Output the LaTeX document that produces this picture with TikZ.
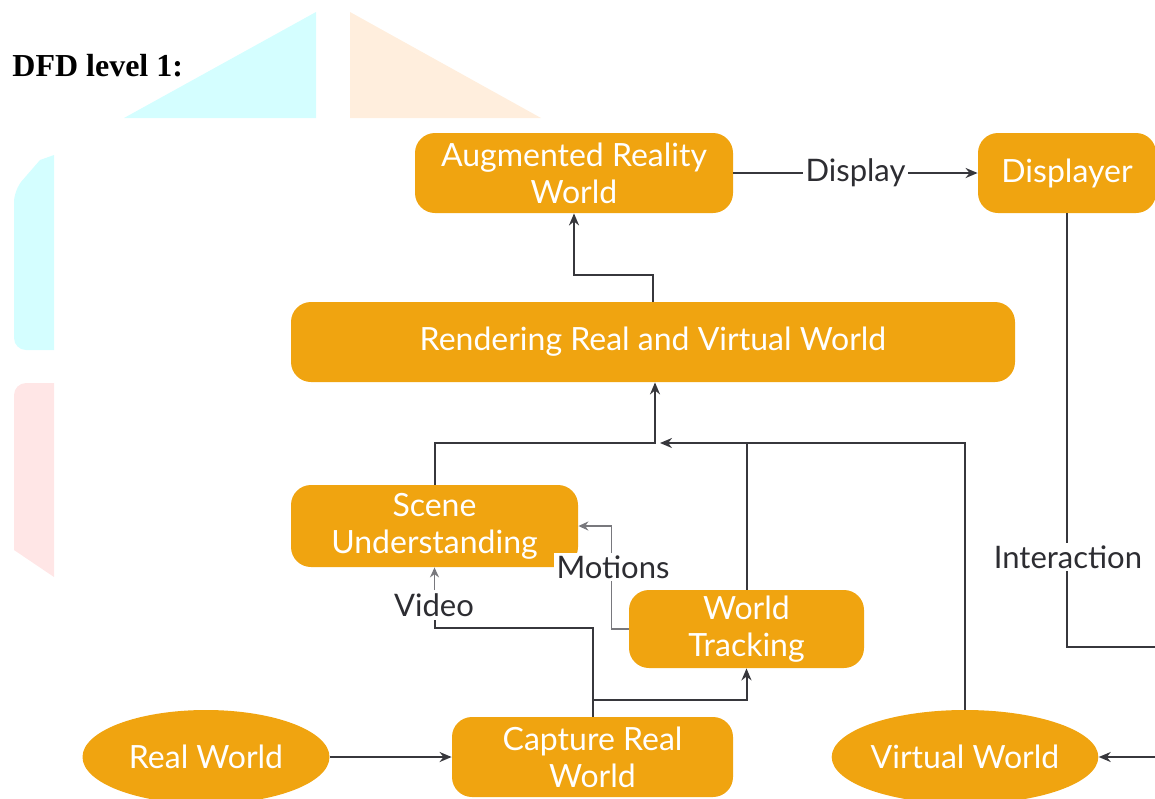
\documentclass[tikz,border=0pt]{standalone}
\usepackage{fontspec}
\setmainfont{Liberation Serif}
\newfontfamily\nodefont{Lato}
\usetikzlibrary{shapes.geometric,arrows.meta}
\definecolor{boxorange}{RGB}{240,164,16}
\definecolor{linegray}{RGB}{55,55,60}
\definecolor{softgray}{RGB}{120,120,125}
\definecolor{labelgray}{RGB}{45,45,50}
\definecolor{wmcyan}{RGB}{212,254,255}
\definecolor{wmpeach}{RGB}{255,238,221}
\definecolor{wmpink}{RGB}{255,230,230}
\tikzset{
  box/.style={fill=boxorange, rounded corners=10pt, text=white,
    font=\nodefont\fontsize{16}{18.5}\selectfont, align=center, inner sep=0pt},
  oval/.style={ellipse, fill=boxorange, text=white,
    font=\nodefont\fontsize{16}{18.5}\selectfont, align=center, inner sep=0pt},
  flow/.style={draw=linegray, line width=1pt, -{Stealth[length=6pt,width=5pt]}},
  plain/.style={draw=linegray, line width=1pt},
  soft/.style={draw=softgray, line width=0.8pt},
  softflow/.style={draw=softgray, line width=0.8pt, -{Stealth[length=5pt,width=4.5pt]}},
  lab/.style={fill=white, text=labelgray, font=\nodefont\fontsize{15.5}{18}\selectfont, inner sep=1.5pt},
}
\begin{document}
\begin{tikzpicture}[x=0.5pt,y=-0.5pt]
\useasboundingbox (0,0) rectangle (1155,798);
% watermark shapes
\fill[wmcyan] (124,118) -- (316,12) -- (316,118) -- cycle;
\fill[wmpeach] (350,12) -- (541,118) -- (350,118) -- cycle;
\fill[wmcyan] (54,155) -- (54,350) [rounded corners=6pt] -- (14,350) -- (14,190) [sharp corners] -- (40,160) -- cycle;
\fill[wmpink] (54,577) -- (54,383) [rounded corners=6pt] -- (14,383) [sharp corners] -- (14,550) -- cycle;
% title
\node[anchor=base west, font=\bfseries\fontsize{16}{19}\selectfont, inner sep=0pt] (title) at (12,76) {DFD level 1:};
% nodes
\node[box, minimum width=159pt, minimum height=40pt] (aug) at (574,173) {Augmented Reality\\World};
\node[box, minimum width=89pt, minimum height=40pt] (disp) at (1067,173) {Displayer};
\node[box, minimum width=362pt, minimum height=40pt] (rend) at (653,342) {Rendering Real and Virtual World};
\node[box, minimum width=143.5pt, minimum height=41pt] (scene) at (434.5,526) {Scene\\Understanding};
\node[box, minimum width=117.5pt, minimum height=39pt] (wt) at (746.5,629) {World\\Tracking};
\node[box, minimum width=140.5pt, minimum height=40pt] (cap) at (592.5,757) {Capture Real\\World};
\node[oval, minimum width=123.5pt, minimum height=47pt] (rw) at (206,757) {Real World};
\node[oval, minimum width=123pt, minimum height=47pt] (vw) at (965,757) {Virtual World};
% coordinates
\coordinate (j) at (655,443);
\coordinate (iout) at (1155,647);
\coordinate (ein) at (1155,757);
\coordinate (cb) at ([yshift=8.5pt]cap.north);
% connectors
\draw[flow] (aug.east) -- node[lab, midway] (displab) {Display} (disp.west);
\draw[flow] (rend.north) -- ++(0,-27) -| (aug.south);
\draw[flow] (scene.north) |- (j) -- (j |- rend.south);
\draw[plain] (wt.north) -- (wt.north |- j);
\draw[flow] (vw.north) |- ([xshift=2.5pt]j);
\draw[plain] (disp.south) |- (iout);
\draw[flow] (ein) -- (vw.east);
\draw[flow] (rw.east) -- (cap.west);
\draw[plain] (cap.north) -- ++(0,-89) -| ([yshift=-18pt]scene.south);
\draw[softflow] ([yshift=-18pt]scene.south) -- (scene.south);
\draw[flow] (cb) -| (wt.south);
\draw[softflow] (wt.west) -- ++(-17,0) |- (scene.east);
% labels on connectors
\node[lab] (videolab) at (434,605) {Video};
\node[lab] (motlab) at (613,567) {Motions};
\node[lab] (intlab) at (1068,557) {Interaction};
\end{tikzpicture}
\end{document}
